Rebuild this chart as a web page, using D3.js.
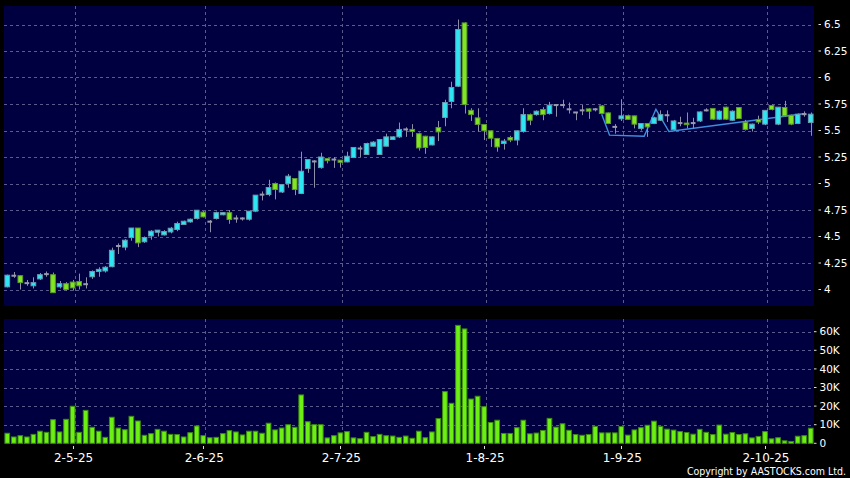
<!DOCTYPE html>
<html><head><meta charset="utf-8">
<script src="https://cdn.jsdelivr.net/npm/d3@7"></script>
<style>html,body{margin:0;padding:0;background:#000;} svg{display:block}</style>
</head><body>
<svg id="c" width="850" height="478"></svg>
<script>
// ---------------- DATA ----------------
const openP = [4.025,4.13,4.13,4.06,4.035,4.1,4.145,4.14,4.025,4.055,4.07,4.075,4.05,4.12,4.17,4.175,4.215,4.41,4.4,4.49,
4.58,4.45,4.505,4.54,4.515,4.543,4.566,4.613,4.638,4.67,4.73,4.64,4.67,4.705,4.725,4.67,4.67,4.663,4.739,4.895,
4.896,5.0,4.92,5.0,5.047,4.906,5.141,5.208,5.15,5.235,5.226,5.22,5.204,5.245,5.33,5.274,5.352,5.274,5.352,5.415,
5.44,5.51,5.51,5.47,5.446,5.364,5.528,5.623,5.774,5.918,6.515,5.69,5.619,5.557,5.497,5.425,5.377,5.434,5.41,5.49,
5.65,5.65,5.698,5.66,5.74,5.74,5.70,5.67,5.69,5.704,5.70,5.732,5.666,5.534,5.61,5.64,5.638,5.52,5.566,5.566,
5.597,5.644,5.51,5.57,5.57,5.57,5.59,5.69,5.708,5.607,5.72,5.597,5.717,5.575,5.519,5.604,5.56,5.736,5.56,5.717,
5.644,5.566,5.654,5.575];
const highP = [4.14,4.165,4.135,4.09,4.115,4.155,4.17,4.16,4.08,4.07,4.09,4.15,4.115,4.18,4.21,4.22,4.395,4.435,4.475,4.58,
4.58,4.5,4.56,4.56,4.56,4.59,4.64,4.65,4.67,4.75,4.74,4.655,4.735,4.73,4.75,4.70,4.68,4.74,4.89,4.925,
5.035,5.01,4.995,5.09,5.05,5.30,5.23,5.22,5.29,5.24,5.25,5.22,5.30,5.34,5.355,5.385,5.40,5.42,5.47,5.445,
5.575,5.53,5.56,5.48,5.45,5.445,5.59,5.79,5.96,6.547,6.52,5.71,5.71,5.56,5.50,5.43,5.42,5.45,5.50,5.71,
5.66,5.69,5.72,5.77,5.745,5.79,5.764,5.675,5.74,5.71,5.71,5.74,5.67,5.56,5.795,5.65,5.64,5.57,5.57,5.63,
5.69,5.69,5.60,5.63,5.67,5.62,5.68,5.71,5.71,5.69,5.725,5.69,5.72,5.60,5.565,5.64,5.69,5.745,5.72,5.78,
5.65,5.66,5.68,5.67];
const lowP = [4.02,4.11,4.0,4.035,4.01,4.09,4.12,3.97,4.01,3.99,3.99,4.0,4.01,4.1,4.12,4.16,4.21,4.335,4.37,4.46,
4.40,4.44,4.47,4.5,4.51,4.53,4.55,4.61,4.63,4.66,4.68,4.54,4.66,4.70,4.62,4.63,4.65,4.65,4.73,4.84,
4.88,4.85,4.91,4.96,4.89,4.90,5.10,4.96,5.14,5.19,5.147,5.15,5.2,5.24,5.25,5.27,5.35,5.27,5.35,5.41,
5.43,5.44,5.44,5.31,5.28,5.36,5.40,5.54,5.71,5.91,5.66,5.59,5.49,5.41,5.345,5.30,5.32,5.39,5.36,5.48,
5.55,5.64,5.597,5.65,5.63,5.71,5.66,5.597,5.645,5.61,5.68,5.66,5.56,5.47,5.59,5.60,5.52,5.50,5.44,5.56,
5.59,5.58,5.50,5.54,5.52,5.52,5.58,5.68,5.60,5.60,5.60,5.59,5.61,5.50,5.49,5.56,5.55,5.69,5.55,5.63,
5.55,5.56,5.63,5.45];
const closeP = [4.135,4.13,4.065,4.06,4.065,4.14,4.145,3.97,4.055,4.0,4.015,4.035,4.05,4.17,4.19,4.21,4.37,4.41,4.465,4.58,
4.44,4.49,4.55,4.56,4.547,4.578,4.623,4.644,4.663,4.748,4.685,4.64,4.725,4.725,4.66,4.67,4.67,4.739,4.89,4.895,
4.962,4.943,4.99,5.069,4.943,5.116,5.226,5.208,5.25,5.215,5.226,5.2,5.257,5.34,5.33,5.377,5.39,5.415,5.44,5.44,
5.51,5.51,5.49,5.336,5.34,5.44,5.487,5.764,5.906,6.453,5.745,5.65,5.557,5.497,5.427,5.345,5.40,5.41,5.497,5.65,
5.597,5.682,5.65,5.739,5.74,5.74,5.70,5.67,5.69,5.682,5.70,5.66,5.566,5.534,5.638,5.605,5.56,5.566,5.534,5.62,
5.65,5.644,5.59,5.57,5.555,5.57,5.675,5.69,5.607,5.682,5.607,5.682,5.613,5.51,5.56,5.58,5.69,5.698,5.72,5.638,
5.56,5.654,5.654,5.654];
const volumeK = [5.4,3.4,4.1,3.4,4.8,6.5,5.9,12.7,6.1,12.9,19.9,5.9,17.7,8.6,6.5,3.2,14.0,8.2,7.3,14.5,
12.0,4.3,5.2,7.5,6.5,4.8,4.7,3.4,5.7,9.3,4.1,3.0,3.2,5.2,6.8,6.1,4.5,6.5,6.5,5.4,
10.8,7.2,8.2,10.0,8.6,26.0,11.6,10.0,10.0,2.9,4.1,5.6,6.3,2.9,2.5,5.9,3.6,4.8,4.1,3.9,
3.2,3.9,2.7,6.5,3.0,6.1,13.3,27.8,21.5,63.4,61.5,23.8,25.3,19.7,11.2,12.4,5.3,5.3,8.4,12.4,
5.1,5.5,6.9,13.4,8.7,10.5,7.0,4.7,4.3,4.7,9.1,5.6,5.6,5.6,9.0,4.4,7.2,8.4,9.7,11.9,
9.1,7.6,7.1,6.3,5.8,4.9,7.5,5.9,4.7,9.8,4.9,5.8,4.7,5.1,2.9,3.7,6.3,2.4,3.0,1.35,
1.0,3.8,4.1,8.1];
// overlay line: [candle index, price]
const lineIdx = [91, 92.2, 97.5, 99.3, 101.3, 122.2];
const lineVal = [5.654, 5.456, 5.446, 5.70, 5.49, 5.66];
const priceTicks = [4,4.25,4.5,4.75,5,5.25,5.5,5.75,6,6.25,6.5];
const volTicksK = [0,10,20,30,40,50,60];
// trading calendar (HK)
const startDate = "2025-04-15";
const holidays = ["2025-04-18","2025-04-21","2025-05-01","2025-05-05","2025-07-01","2025-10-01","2025-10-07"];

// ---------------- BUILD ----------------
const dates = [];
{
  let d = new Date(startDate + "T00:00:00Z");
  while (dates.length < closeP.length) {
    const iso = d.toISOString().slice(0,10);
    const wd = d.getUTCDay();
    if (wd !== 0 && wd !== 6 && !holidays.includes(iso)) dates.push(new Date(d));
    d.setUTCDate(d.getUTCDate() + 1);
  }
}
const fmt = d => `${d.getUTCDate()}-${d.getUTCMonth()+1}-${String(d.getUTCFullYear()).slice(2)}`;
const monthStarts = [];
for (let i = 1; i < dates.length; i++) if (dates[i].getUTCMonth() !== dates[i-1].getUTCMonth()) monthStarts.push(i);

const data = closeP.map((c,i)=>({i, o:openP[i], h:highP[i], l:lowP[i], c, v:volumeK[i]*1000}));

const svg = d3.select("#c");
const L = 4, R = 814;
const pTop = 6, pBot = 306, vTop = 319, vBot = 444;

const x = d3.scaleBand().domain(d3.range(data.length)).range([L, R]).paddingInner(0.13).paddingOuter(0.065);
const xc = i => x(i) + x.bandwidth()/2;
const xLin = d3.scaleLinear().domain([0, data.length-1]).range([xc(0), xc(data.length-1)]);
const y = d3.scaleLinear().domain([4, 6.5]).range([289.5, 24.5]);
const yv = d3.scaleLinear().domain([0, 60000]).range([443.3, 331.7]);

svg.append("rect").attr("width",850).attr("height",478).attr("fill","#000");
svg.append("rect").attr("x",L).attr("y",pTop).attr("width",R-L).attr("height",pBot-pTop).attr("fill","#000040");
svg.append("rect").attr("x",L).attr("y",vTop).attr("width",R-L).attr("height",vBot-vTop).attr("fill","#000040");

const gridCol = "#5a5a8c";
svg.append("g").selectAll("line").data(priceTicks).join("line")
  .attr("x1",L).attr("x2",R).attr("y1",d=>Math.round(y(d))+0.5).attr("y2",d=>Math.round(y(d))+0.5)
  .attr("stroke",gridCol).attr("stroke-dasharray","3,3");
svg.append("g").selectAll("line").data(volTicksK.filter(d=>d>0)).join("line")
  .attr("x1",L).attr("x2",R).attr("y1",d=>Math.round(yv(d*1000))+0.5).attr("y2",d=>Math.round(yv(d*1000))+0.5)
  .attr("stroke",gridCol).attr("stroke-dasharray","3,3");
[[pTop,pBot],[vTop,vBot]].forEach(([t,b])=>{
  svg.append("g").selectAll("line").data(monthStarts).join("line")
    .attr("x1",i=>Math.round(xc(i)+2)+0.5).attr("x2",i=>Math.round(xc(i)+2)+0.5)
    .attr("y1",t).attr("y2",b).attr("stroke",gridCol).attr("stroke-dasharray","3,3");
});

// overlay line
svg.append("path")
  .datum(lineIdx.map((k,j)=>[k,lineVal[j]]))
  .attr("fill","none").attr("stroke","#3f8fe0").attr("stroke-width",1.4)
  .attr("d", d3.line().x(d=>xLin(d[0])).y(d=>y(d[1])));

// candles
const bw = x.bandwidth();
const cg = svg.append("g");
cg.selectAll("line.w").data(data).join("line").attr("class","w")
  .attr("x1",d=>Math.round(xc(d.i))+0.5).attr("x2",d=>Math.round(xc(d.i))+0.5)
  .attr("y1",d=>y(d.h)).attr("y2",d=>y(d.l)).attr("stroke","#8e8ea6").attr("stroke-width",1);
cg.selectAll("rect.b").data(data).join("rect").attr("class","b")
  .attr("x",d=>x(d.i)+0.5).attr("width",bw-1)
  .attr("y",d=> d.c===d.o ? y(d.c)-1 : y(Math.max(d.o,d.c)))
  .attr("height",d=> d.c===d.o ? 2 : Math.max(1.5, y(Math.min(d.o,d.c))-y(Math.max(d.o,d.c))))
  .attr("fill",d=> d.c>d.o ? "#2ee6f2" : d.c<d.o ? "#80e622" : "#9a9aae")
  .attr("stroke",d=> d.c>d.o ? "#6a9cb0" : d.c<d.o ? "#5c9a2c" : "none")
  .attr("stroke-width",1);

// volume bars
svg.append("g").selectAll("rect").data(data).join("rect")
  .attr("x",d=>x(d.i)+0.5).attr("width",bw-1)
  .attr("y",d=>yv(d.v)).attr("height",d=>yv(0)-yv(d.v))
  .attr("fill","#6cf014").attr("stroke","#3c8a10").attr("stroke-width",1);

// right axes
const ax = svg.append("g").attr("font-family","DejaVu Sans, Verdana, sans-serif").attr("fill","#fff");
priceTicks.forEach(t=>{
  ax.append("line").attr("x1",818.5).attr("x2",821).attr("y1",y(t)).attr("y2",y(t)).attr("stroke","#ddd");
  ax.append("text").attr("x",824).attr("y",y(t)).attr("dy","0.36em").attr("font-size",10.5).text(d3.format("")(t));
});
volTicksK.forEach(t=>{
  ax.append("line").attr("x1",814).attr("x2",816.5).attr("y1",yv(t*1000)).attr("y2",yv(t*1000)).attr("stroke","#ddd");
  ax.append("text").attr("x",819.5).attr("y",yv(t*1000)).attr("dy","0.36em").attr("font-size",10.5).text(t===0?"0":t+"K");
});
// date axis
monthStarts.forEach(i=>{
  ax.append("line").attr("x1",Math.round(xc(i))+0.5).attr("x2",Math.round(xc(i))+0.5).attr("y1",446).attr("y2",449).attr("stroke","#ddd");
  ax.append("text").attr("x",xc(i)+1).attr("y",462).attr("text-anchor","middle").attr("font-size",12).text(fmt(dates[i]));
});
ax.append("text").attr("x",846).attr("y",475).attr("text-anchor","end")
  .attr("font-family","DejaVu Sans Condensed, DejaVu Sans, sans-serif").attr("font-stretch","condensed")
  .attr("font-size",10.5).text("Copyright by AASTOCKS.com Ltd.");
</script>
</body></html>
